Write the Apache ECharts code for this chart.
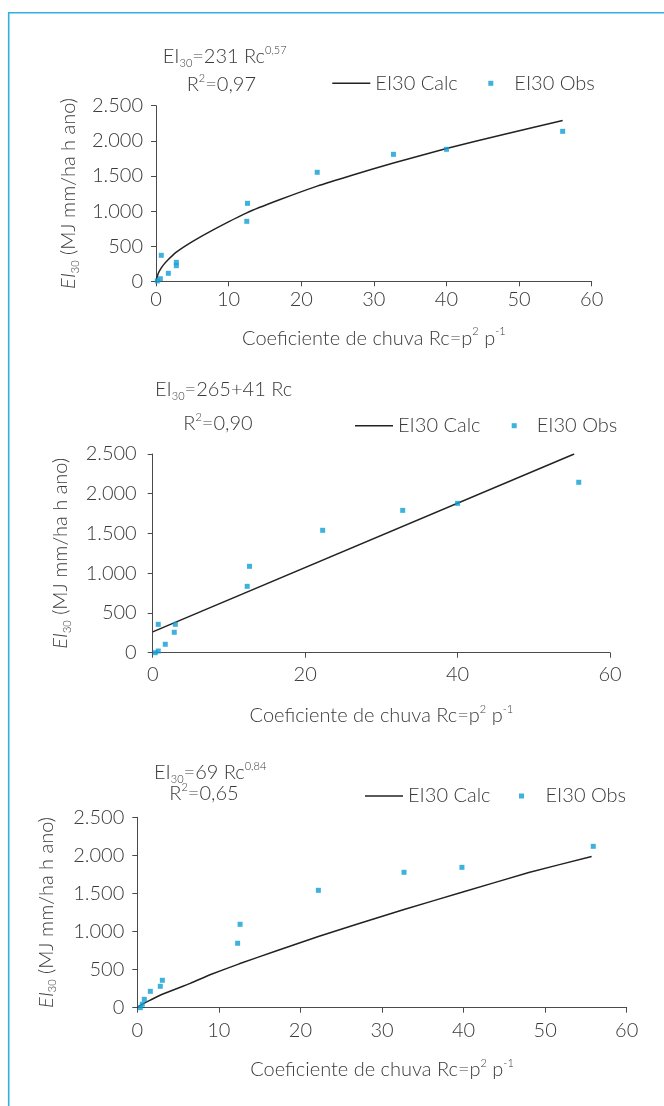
<!DOCTYPE html>
<html>
<head>
<meta charset="utf-8">
<script src="https://cdn.jsdelivr.net/npm/echarts@6/dist/echarts.min.js"></script>
<style>
html,body{margin:0;padding:0;background:#fff;}
#c{width:664px;height:1106px;}
</style>
</head>
<body>
<div id="c"></div>
<script>
// ---- Data ----
// Chart 1: EI30 = 231 Rc^0,57
const rcObs1 = [0.18, 0.6, 0.73, 1.7, 2.8, 2.8, 12.5, 12.6, 22.2, 32.7, 40.0, 56.0];
const eiObs1 = [5, 37, 370, 114, 222, 270, 854, 1110, 1552, 1808, 1879, 2135];
const rcCalc1 = [0, 0.3, 0.6, 1.0, 1.7, 2.8, 5, 8, 12.5, 17, 22.2, 27, 32.7, 40.0, 48, 56.0];
const eiCalc1 = [0, 110, 170, 230, 310, 415, 565, 740, 975, 1160, 1355, 1510, 1685, 1890, 2095, 2290];
// Chart 2: EI30 = 265 + 41 Rc
const rcObs2 = [0.34, 0.73, 0.73, 1.65, 2.83, 2.97, 12.4, 12.7, 22.3, 32.8, 40.0, 55.9];
const eiObs2 = [0, 21, 357, 106, 257, 357, 835, 1087, 1540, 1791, 1879, 2144];
const rcCalc2 = [0, 55.3];
const eiCalc2 = [262, 2500];
// Chart 3: EI30 = 69 Rc^0,84
const rcObs3 = [0.37, 0.61, 0.86, 1.6, 2.82, 3.07, 12.3, 12.6, 22.2, 32.7, 39.8, 55.9];
const eiObs3 = [0, 45, 110, 215, 281, 360, 846, 1095, 1541, 1778, 1843, 2119];
const rcCalc3 = [0, 0.37, 0.86, 1.6, 3.07, 6.5, 9, 12.5, 17, 22.2, 27, 32.7, 39.8, 48, 55.7];
const eiCalc3 = [0, 30, 60, 100, 177, 320, 435, 576, 745, 935, 1098, 1290, 1515, 1775, 1985];

const yTickLabels = ['0', '500', '1.000', '1.500', '2.000', '2.500'];
const equations = [
  {eq: '{n|EI}{sub|30}{n|=231 Rc}{sup|0,57}', r2: '{n|R}{sup|2}{n|=0,97}'},
  {eq: '{n|EI}{sub|30}{n|=265+41 Rc}', r2: '{n|R}{sup|2}{n|=0,90}'},
  {eq: '{n|EI}{sub|30}{n|=69 Rc}{sup|0,84}', r2: '{n|R}{sup|2}{n|=0,65}'}
];
const calcName = 'EI30 Calc';
const obsName = 'EI30 Obs';
const xName = '{n|Coeficiente de chuva Rc=p}{sup|2}{n| p}{sup|-1}';
const yName = '{i|EI}{sub|30}{n| (MJ mm/ha h ano)}';

// ---- Styling ----
const FONT = 'Lato';
const FW = 300;
const TXT = '#3a3a3a';
const AX = '#4a4a4a';
const MARK = '#0f9dd4';
const LINE = '#222';
const FS = 20;

const pairs = (xs, ys) => xs.map((x, i) => [x, ys[i]]);

const grids = [
  {left: 156, top: 105.7, width: 435.7, height: 175.6},
  {left: 152.7, top: 454, width: 457.3, height: 198.7},
  {left: 137.3, top: 817.3, width: 489.4, height: 190.4}
];
const xCfg = [
  {interval: 10, labelMargin: 8, nameGap: 45},
  {interval: 20, labelMargin: 12, nameGap: 51},
  {interval: 10, labelMargin: 13, nameGap: 50}
];
const yCfg = [
  {labelMargin: 13, nameGap: 61},
  {labelMargin: 16, nameGap: 80},
  {labelMargin: 13, nameGap: 79}
];
const eqPos = [
  {eqX: 162.7, eqY: 57, r2X: 186.7, r2Y: 84.7},
  {eqX: 155, eqY: 391.5, r2X: 183.3, r2Y: 424},
  {eqX: 154, eqY: 772.5, r2X: 169.3, r2Y: 794}
];
const legPos = [
  {lineX: 332.3, sqX: 488.3, y: 83.3, pad: 16},
  {lineX: 355, sqX: 511.7, y: 425.7, pad: 15},
  {lineX: 365, sqX: 519, y: 796, pad: 16.5}
];

const richOpt = {
  n: {fontSize: FS, fontFamily: FONT, fontWeight: FW, color: TXT, lineHeight: 24},
  i: {fontSize: FS, fontFamily: FONT, fontWeight: FW, fontStyle: 'italic', color: TXT, lineHeight: 24},
  sub: {fontSize: 11, fontFamily: FONT, fontWeight: FW, color: TXT, lineHeight: 11, verticalAlign: 'bottom'},
  sup: {fontSize: 11, fontFamily: FONT, fontWeight: FW, color: TXT, lineHeight: 11, verticalAlign: 'top'}
};
const richGfx = {};
Object.keys(richOpt).forEach(k => {
  const r = Object.assign({}, richOpt[k]);
  r.fill = r.color; delete r.color;
  richGfx[k] = r;
});

const xAxes = grids.map((g, i) => ({
  gridIndex: i, type: 'value', min: 0, max: 60, interval: xCfg[i].interval,
  splitLine: {show: false},
  axisLine: {show: true, onZero: false, lineStyle: {color: AX, width: 1}},
  axisTick: {show: true, inside: false, length: 5, lineStyle: {color: AX, width: 1}},
  axisLabel: {margin: xCfg[i].labelMargin, fontSize: FS, fontFamily: FONT, fontWeight: FW, color: TXT},
  name: xName, nameLocation: 'middle', nameGap: xCfg[i].nameGap,
  nameTextStyle: {rich: richOpt}
}));
const yAxes = grids.map((g, i) => ({
  gridIndex: i, type: 'value', min: 0, max: 2500, interval: 500,
  splitLine: {show: false},
  axisLine: {show: true, lineStyle: {color: AX, width: 1}},
  axisTick: {show: true, inside: false, length: 5, lineStyle: {color: AX, width: 1}},
  axisLabel: {margin: yCfg[i].labelMargin, fontSize: FS, fontFamily: FONT, fontWeight: FW, color: TXT,
    formatter: v => yTickLabels[Math.round(v / 500)]},
  name: yName, nameLocation: 'middle', nameGap: yCfg[i].nameGap, nameRotate: 90,
  nameTextStyle: {rich: richOpt}
}));

const calcData = [pairs(rcCalc1, eiCalc1), pairs(rcCalc2, eiCalc2), pairs(rcCalc3, eiCalc3)];
const obsData = [pairs(rcObs1, eiObs1), pairs(rcObs2, eiObs2), pairs(rcObs3, eiObs3)];

const series = [];
for (let i = 0; i < 3; i++) {
  series.push({
    name: calcName, type: 'line', xAxisIndex: i, yAxisIndex: i,
    data: calcData[i], symbol: 'none', smooth: i === 1 ? false : 0.15,
    lineStyle: {color: LINE, width: 1.5}, itemStyle: {color: LINE}, z: 2, silent: true
  });
  series.push({
    name: obsName, type: 'scatter', xAxisIndex: i, yAxisIndex: i,
    data: obsData[i], symbol: 'rect', symbolSize: 5,
    itemStyle: {color: MARK}, z: 3, silent: true
  });
}

const legends = [];
legPos.forEach(p => {
  legends.push({
    data: [{name: calcName, icon: 'rect'}], left: p.lineX, top: p.y - 12, padding: 0, selectedMode: false,
    itemWidth: 38, itemHeight: 1.5, itemStyle: {color: LINE},
    textStyle: {fontSize: FS, fontFamily: FONT, fontWeight: FW, color: TXT, lineHeight: 24}
  });
  legends.push({
    data: [{name: obsName, icon: 'rect'}], left: p.sqX, top: p.y - 12, padding: 0, selectedMode: false,
    itemWidth: 5, itemHeight: 5,
    textStyle: {fontSize: FS, fontFamily: FONT, fontWeight: FW, color: TXT, lineHeight: 24,
      padding: [0, 0, 0, p.pad]}
  });
});

const graphics = [
  {type: 'line', shape: {x1: 8.7, y1: 12.7, x2: 664, y2: 12.7}, style: {stroke: '#35aee1', lineWidth: 1.6}, silent: true},
  {type: 'line', shape: {x1: 8.7, y1: 12, x2: 8.7, y2: 1106}, style: {stroke: '#35aee1', lineWidth: 1.6}, silent: true}
];
eqPos.forEach((p, i) => {
  graphics.push({type: 'text', left: p.eqX, top: p.eqY - 12, silent: true,
    style: {text: equations[i].eq, rich: richGfx, fill: TXT}});
  graphics.push({type: 'text', left: p.r2X, top: p.r2Y - 12, silent: true,
    style: {text: equations[i].r2, rich: richGfx, fill: TXT}});
});

const chart = echarts.init(document.getElementById('c'), null, {renderer: 'canvas'});
chart.setOption({
  animation: false,
  backgroundColor: '#fff',
  grid: grids,
  xAxis: xAxes,
  yAxis: yAxes,
  legend: legends,
  series: series,
  graphic: graphics
});
</script>
</body>
</html>
